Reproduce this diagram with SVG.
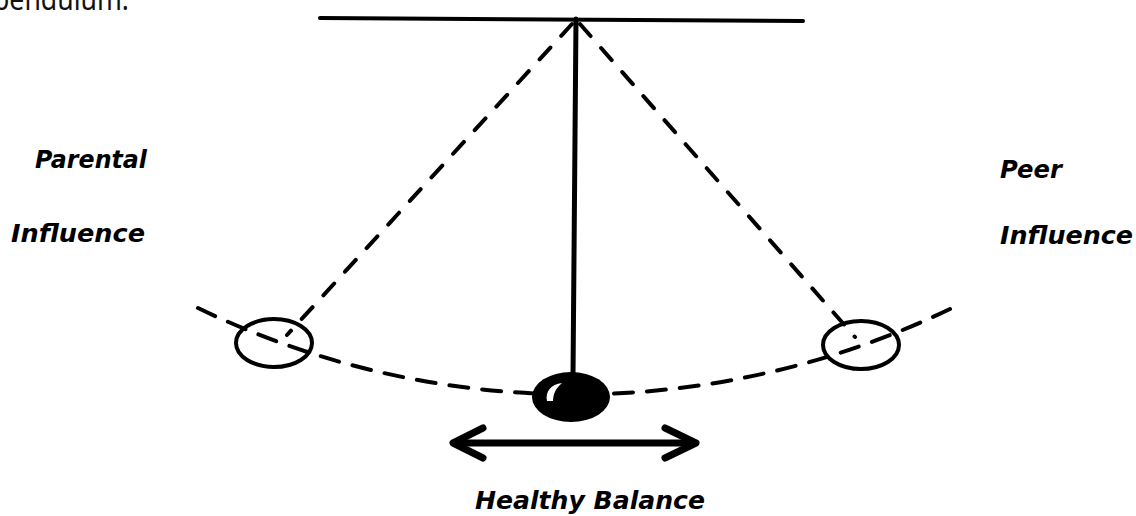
<svg xmlns="http://www.w3.org/2000/svg" width="1136" height="516" viewBox="0 0 1136 516">
<style>
.lbl{font-family:"DejaVu Sans","Liberation Sans",sans-serif;font-weight:bold;font-style:italic;font-size:25px;fill:#000}
.dash{fill:none;stroke:#000;stroke-width:4;stroke-linecap:round}
.solid{fill:none;stroke:#000;stroke-linecap:round}
</style>
<rect width="1136" height="516" fill="#fff"/>
<text x="-7" y="10" font-family="'Noto Sans','Open Sans',sans-serif" font-size="30" textLength="136" lengthAdjust="spacingAndGlyphs" fill="#111">pendulum.</text>
<g id="connectors">
  <line class="solid" x1="320" y1="18" x2="803" y2="21" stroke-width="4"/>
  <line class="solid" x1="576" y1="19" x2="573" y2="376" stroke-width="5"/>
  <line class="dash" x1="572" y1="24" x2="287" y2="335" stroke-dasharray="16 16"/>
  <line class="dash" x1="580" y1="24" x2="855" y2="337" stroke-dasharray="16 16"/>
  <path class="dash" d="M198,308 A866,866 0 0 0 950,309" stroke-width="3.6" stroke-dasharray="19 14"/>
</g>
<g id="left-bob">
  <ellipse cx="274" cy="343" rx="38" ry="24" fill="none" stroke="#000" stroke-width="4"/>
</g>
<g id="right-bob">
  <ellipse cx="861" cy="345" rx="38" ry="24" fill="none" stroke="#000" stroke-width="4"/>
</g>
<g id="center-bob">
  <ellipse cx="571" cy="397" rx="39" ry="25" fill="#000"/>
  <path d="M547,401 C545,392 551,384 562,383 C556,388 553,394 553,401 Z" fill="#fff"/>
</g>
<g id="balance-arrow">
  <line class="solid" x1="456" y1="443" x2="693" y2="443" stroke-width="7"/>
  <polyline class="solid" points="483,428 453,443 483,458" stroke-width="7" stroke-linejoin="round"/>
  <polyline class="solid" points="665,428 696,443 665,458" stroke-width="7" stroke-linejoin="round"/>
</g>
<g id="parental-label">
  <text class="lbl" x="35" y="168" textLength="112" lengthAdjust="spacingAndGlyphs">Parental</text>
  <text class="lbl" x="11" y="242" textLength="134" lengthAdjust="spacingAndGlyphs">Influence</text>
</g>
<g id="peer-label">
  <text class="lbl" x="1000" y="178" textLength="62" lengthAdjust="spacingAndGlyphs">Peer</text>
  <text class="lbl" x="1000" y="244" textLength="133" lengthAdjust="spacingAndGlyphs">Influence</text>
</g>
<g id="balance-label">
  <text class="lbl" x="475" y="509" textLength="230" lengthAdjust="spacingAndGlyphs">Healthy Balance</text>
</g>
</svg>
